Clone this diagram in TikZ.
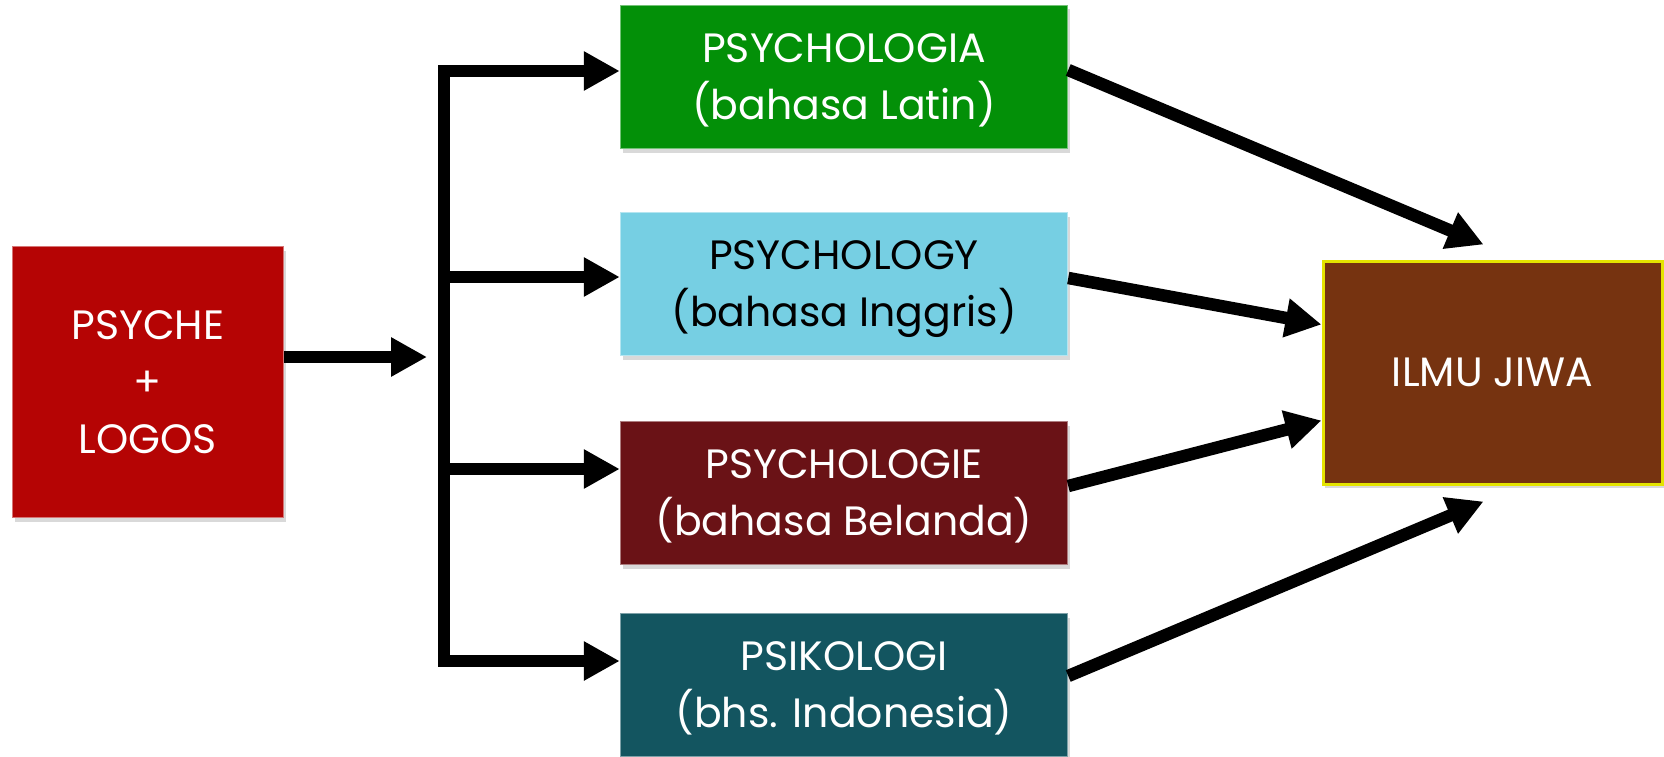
\documentclass[tikz,border=0pt]{standalone}
\usepackage{fontspec}
\setmainfont{Poppins}
\usetikzlibrary{arrows.meta,shadows,calc}
\definecolor{psyred}{HTML}{B50404}
\definecolor{latgreen}{HTML}{039008}
\definecolor{engblue}{HTML}{76CFE3}
\definecolor{dutchred}{HTML}{6A1216}
\definecolor{indoteal}{HTML}{135560}
\definecolor{jiwabrown}{HTML}{763310}
\definecolor{jiwaedge}{HTML}{E4E400}

\begin{document}
\begin{tikzpicture}[x=1pt,y=-1pt,
	box/.style={fill=#1, draw=#1!55!white, line width=1.5pt, text=white, align=center,
		inner sep=0pt, font=\fontsize{41}{57}\selectfont,
		drop shadow={shadow xshift=2pt, shadow yshift=-4pt, opacity=.3}},
	langbox/.style={box=#1, minimum width=447, minimum height=143, text depth=0pt},
	arr/.style={line width=12.5pt, -{Triangle[length=36pt,width=37pt]}},
	bar/.style={line width=12.5pt, line cap=rect}]
	%%%%% START %%%%%
	\useasboundingbox (0,0) rectangle (1664,757);
	
	\node[box=psyred, minimum width=271, minimum height=271] (psyche) at (148,382) {PSYCHE\\+\\LOGOS};
	
	\node[langbox=latgreen] (latin) at (844,77) {PSYCHOLOGIA\\(bahasa Latin)};
	\node[langbox=engblue, text=black] (english) at (844,284) {PSYCHOLOGY\\(bahasa Inggris)};
	\node[langbox=dutchred] (dutch) at (844,493) {PSYCHOLOGIE\\(bahasa Belanda)};
	\node[langbox=indoteal] (indo) at (844,685) {PSIKOLOGI\\(bhs. Indonesia)};
	
	\node[box=jiwabrown, draw=jiwaedge, line width=3pt, minimum width=339, minimum height=223] (jiwa) at (1492.5,372.5) {ILMU JIWA};
	
	% psyche -> split
	\coordinate (split) at (427,357);
	\draw[arr] ($(psyche.east)+(0,-25)$) -- (split);
	
	% branches
	\coordinate (b1) at (444,71);
	\coordinate (b2) at (444,277);
	\coordinate (b3) at (444,469);
	\coordinate (b4) at (444,661);
	\draw[bar] (b1) -- (b4);
	\draw[arr] (b1) -- (b1 -| latin.west);
	\draw[arr] (b2) -- (b2 -| english.west);
	\draw[arr] (b3) -- (b3 -| dutch.west);
	\draw[arr] (b4) -- (b4 -| indo.west);
	
	% into ilmu jiwa
	\draw[arr] ($(latin.east)+(0,-7)$) -- ($(jiwa.north west)+(162,-15)$);
	\draw[arr] ($(english.east)+(0,-6)$) -- ($(jiwa.west)+(0,-48)$);
	\draw[arr] ($(dutch.east)+(0,-7)$) -- ($(jiwa.west)+(0,48)$);
	\draw[arr] ($(indo.east)+(0,-9)$) -- ($(jiwa.south west)+(162,16)$);
	%%%%% END %%%%%
\end{tikzpicture}
\end{document}
